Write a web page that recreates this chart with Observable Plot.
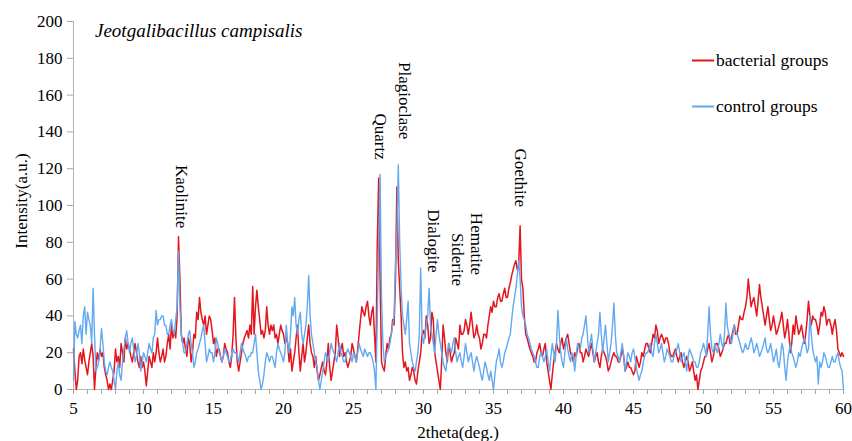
<!DOCTYPE html>
<html><head><meta charset="utf-8">
<script src="https://cdn.jsdelivr.net/npm/d3@7"></script>
<script src="https://cdn.jsdelivr.net/npm/@observablehq/plot@0.6"></script>
<style>
body{margin:0;background:#fff;}
#wrap{position:relative;width:852px;height:441px;font-family:"Liberation Serif","Times New Roman",serif;color:#000;}
#wrap svg g[aria-label="x-axis tick"], #wrap svg g[aria-label="y-axis tick"]{stroke:#a6a6a6;}
.ov{position:absolute;white-space:nowrap;line-height:1;}
#title{left:95px;top:21px;font-size:19px;font-style:italic;}
#ylab{left:21px;top:201px;font-size:17px;transform:translate(-50%,-50%) rotate(-90deg);}
#xlab{left:458px;top:432px;font-size:17px;transform:translate(-50%,-50%);}
.leg{position:absolute;left:692px;font-size:17.5px;display:flex;align-items:center;transform:translateY(-50%);}
.leg span.sw{display:inline-block;width:22px;height:2px;margin-right:2px;}
</style></head><body><div id="wrap"></div>
<script>
// 2theta grid: start 5 deg, one reading every 0.1 deg up to 60 deg
const thetaStart = 5;
const thetaStep = 0.1;
// bacterial groups (red), readings per degree row: x.0 ... x.9
const bacterial = [
22,10,0,5,18,20,14,22,16,12,
8,15,20,25,18,0,12,20,16,22,
18,20,12,8,5,0,3,0,5,10,
22,15,18,12,25,20,15,28,22,25,
22,18,15,20,25,20,15,12,18,12,
15,10,2,10,18,15,12,20,15,20,
28,20,15,18,22,15,18,25,30,22,
35,28,32,28,40,83,60,30,25,28,
22,18,28,25,15,20,30,28,42,38,
50,42,38,35,40,30,35,40,38,32,
25,28,18,22,22,18,15,18,25,22,
20,15,12,18,30,50,28,15,10,15,
20,25,28,30,32,28,35,30,56,30,
45,54,45,38,30,32,28,32,45,35,
30,35,32,35,28,30,25,30,35,32,
30,25,28,25,15,22,10,15,20,28,
35,20,10,18,25,15,20,28,35,25,
20,18,12,18,10,5,8,12,15,10,
8,15,25,12,5,10,15,20,35,28,
18,22,25,18,20,15,12,15,18,25,
22,18,15,22,30,38,45,42,40,45,
48,40,35,42,45,30,15,80,115,60,
15,12,10,18,25,22,28,30,38,35,
60,110,70,55,40,20,12,15,10,12,
5,8,12,10,5,3,10,15,20,30,
32,28,40,35,25,28,42,38,20,15,
10,5,0,15,35,28,20,15,25,20,
15,18,20,28,25,22,35,30,30,32,
38,35,30,35,42,35,28,30,35,30,
28,22,25,30,30,28,35,40,45,42,
48,45,45,50,52,48,48,52,55,50,
50,55,58,62,65,68,70,65,68,89,
60,55,40,30,28,25,22,20,18,15,
15,20,22,25,20,18,22,25,15,10,
5,0,8,15,20,25,22,20,25,28,
22,25,28,30,25,20,18,15,20,18,
22,25,20,20,15,18,22,20,18,22,
25,20,15,18,20,15,12,18,22,20,
18,15,10,12,15,18,20,18,18,15,
15,18,22,18,10,12,15,12,12,10,
8,10,18,15,12,15,20,18,22,25,
25,22,20,25,30,28,35,32,25,28,
30,28,25,28,28,25,20,18,18,20,
22,18,15,18,20,15,12,15,18,15,
10,12,15,10,5,8,0,5,10,12,
15,18,18,22,25,20,15,18,22,25,
25,22,18,20,22,25,25,28,30,25,
28,32,35,30,30,35,40,38,38,42,
45,50,60,52,45,48,50,45,40,48,
57,50,45,40,35,40,45,38,32,35,
40,35,30,32,35,38,42,35,28,32,
38,30,20,25,35,30,40,35,30,32,
35,30,25,30,38,48,40,35,40,38,
38,35,30,35,42,40,45,42,35,38,
38,35,30,35,38,32,22,20,18,20,
18];
// control groups (blue)
const control = [
5,37,30,28,32,35,25,40,45,30,
42,38,35,25,55,30,10,12,15,22,
33,25,15,10,8,12,15,12,10,5,
0,10,15,8,5,15,22,28,32,25,
20,25,28,22,15,18,25,20,10,15,
20,18,15,20,25,22,20,28,30,43,
35,38,38,40,40,35,35,30,30,35,
38,32,30,38,45,75,45,30,25,20,
20,25,30,32,25,20,12,15,20,22,
25,28,32,35,25,15,18,22,20,20,
15,20,28,25,20,18,15,18,22,20,
18,15,15,20,22,20,20,18,15,20,
25,22,20,18,15,18,18,20,20,25,
30,20,10,5,0,3,8,15,20,18,
15,18,18,15,12,20,25,22,20,18,
15,20,35,25,20,30,45,40,50,35,
30,38,42,30,25,30,35,45,62,40,
30,25,20,15,12,5,0,5,10,15,
20,18,15,20,25,22,20,18,15,20,
25,20,18,15,15,20,22,20,18,15,
20,18,15,20,25,22,20,18,22,20,
18,20,20,18,15,10,0,40,80,117,
50,25,15,18,20,22,25,30,35,40,
70,85,122,80,55,40,35,30,38,48,
25,20,15,12,10,15,20,30,66,30,
25,30,35,40,55,35,30,25,20,30,
38,30,25,20,15,12,10,18,25,22,
20,25,28,20,15,18,20,15,12,18,
25,20,15,18,20,15,10,15,18,15,
12,8,5,10,15,12,8,5,10,5,
0,8,15,18,22,15,12,15,20,22,
25,28,30,38,45,50,55,62,70,60,
45,40,38,35,30,28,25,22,20,18,
15,12,12,18,20,18,15,18,22,15,
10,18,25,20,15,25,43,30,20,15,
12,20,28,22,18,15,20,18,10,18,
25,22,22,28,30,35,40,30,20,25,
30,22,15,20,25,30,42,30,20,28,
35,25,15,20,25,35,47,30,20,18,
15,20,25,18,10,15,20,18,15,20,
22,18,12,8,5,8,10,15,18,20,
20,22,25,20,18,25,30,25,20,22,
25,20,15,18,22,20,18,15,15,18,
20,22,25,20,15,18,20,15,10,18,
22,20,18,15,15,12,12,15,20,22,
25,22,18,30,45,30,22,20,25,22,
20,25,30,25,22,30,47,35,30,28,
25,30,35,32,30,28,25,22,20,22,
25,22,22,25,28,25,20,22,25,22,
18,20,22,25,28,22,20,22,25,20,
15,18,22,15,12,18,25,22,12,5,
15,20,25,20,18,15,12,15,20,18,
22,25,28,25,20,22,40,30,22,18,
15,18,3,15,12,15,20,18,15,12,
12,15,18,15,15,18,20,15,12,10,
0];
// mineral peak labels
const peakNames = ["Kaolinite","Quartz","Plagioclase","Dialogite","Siderite","Hematite","Goethite"];
const peakTheta = [12.7, 26.9, 28.65, 30.7, 32.4, 33.8, 36.9];
const peakLabelTop = [122, 150, 178, 98, 85, 96, 131];
// axes
const yTicks = [0,20,40,60,80,100,120,140,160,180,200];
const xTickLabels = [5,10,15,20,25,30,35,40,45,50,55,60];
const xMinorTicks = d3.range(5, 61, 1);
const seriesNames = ["bacterial groups","control groups"];
const seriesColors = ["#e3161e","#62a9f2"];

const toRows = (arr, name) => arr.map((v, i) => ({theta: thetaStart + i * thetaStep, intensity: v, series: name}));
const redRows = toRows(bacterial, seriesNames[0]);
const blueRows = toRows(control, seriesNames[1]);
const peaks = peakNames.map((n, i) => ({name: n, theta: peakTheta[i], top: peakLabelTop[i]}));

const chart = Plot.plot({
  width: 852, height: 441,
  marginLeft: 73, marginRight: 9, marginTop: 21, marginBottom: 52,
  style: {fontFamily: "Liberation Serif, 'Times New Roman', serif", fontSize: "17px", color: "#000", background: "#fff"},
  x: {domain: [5, 60]},
  y: {domain: [0, 200]},
  marks: [
    Plot.ruleX([5], {stroke: "#b4b4b4"}),
    Plot.ruleY([0], {stroke: "#b4b4b4"}),
    Plot.axisY({ticks: yTicks, tickSize: 6, tickPadding: 5, label: null, fontSize: 17}),
    Plot.axisX({ticks: xMinorTicks, tickSize: 5, tickPadding: 7, tickFormat: d => xTickLabels.includes(d) ? String(d) : "", label: null, fontSize: 17}),
    Plot.line(redRows, {x: "theta", y: "intensity", stroke: seriesColors[0], strokeWidth: 1.5}),
    Plot.line(blueRows, {x: "theta", y: "intensity", stroke: seriesColors[1], strokeWidth: 1.4}),
    Plot.text(peaks, {x: "theta", y: "top", text: "name", rotate: 90, textAnchor: "start", fontSize: 17, fill: "#000"})
  ]
});
const wrap = document.getElementById("wrap");
wrap.appendChild(chart);
const add = (id, txt) => { const d = document.createElement("div"); d.className = "ov"; d.id = id; d.textContent = txt; wrap.appendChild(d); return d; };
add("title", "Jeotgalibacillus campisalis");
add("ylab", "Intensity(a.u.)");
add("xlab", "2theta(deg.)");
const legTops = [60, 106];
seriesNames.forEach((n, i) => {
  const d = document.createElement("div");
  d.className = "leg";
  d.style.top = legTops[i] + "px";
  d.innerHTML = `<span class="sw" style="background:${seriesColors[i]}"></span><span>${n}</span>`;
  wrap.appendChild(d);
});
</script></body></html>
